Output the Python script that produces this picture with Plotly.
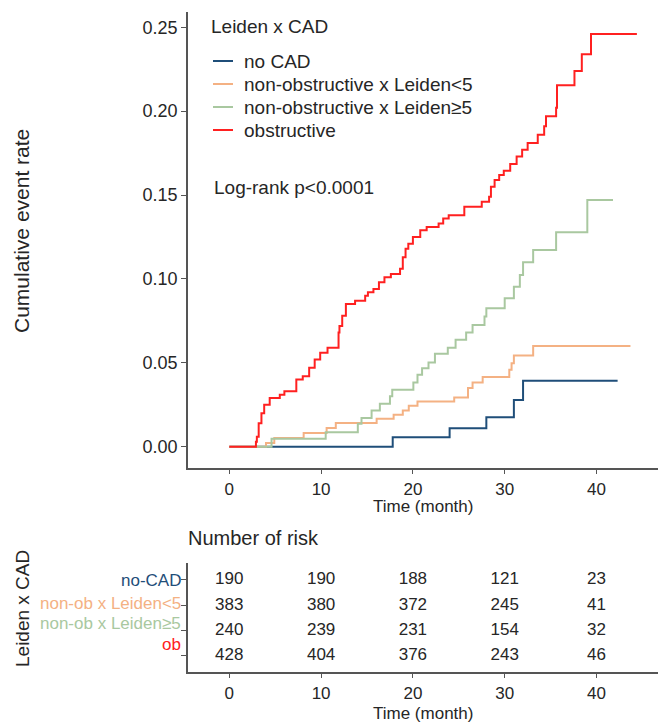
import plotly.graph_objects as go

# ---------------- data ----------------
group_names = ["no CAD", "non-obstructive x Leiden<5", "non-obstructive x Leiden\u22655", "obstructive"]
group_colors = ["#1F4E79", "#F4B183", "#A9C8A0", "#FF2020"]

t_nocad = [0, 17.8, 24.0, 28.0, 31.0, 32.0, 42.3]
v_nocad = [0, 0.0056, 0.0110, 0.0175, 0.0278, 0.0393, 0.0393]

t_lt5 = [0, 4.0, 4.9, 8.1, 10.6, 11.6, 16.05, 17.9, 18.9, 19.55, 20.5, 24.5, 26.0, 26.5, 27.6, 30.5, 30.75, 31.0, 33.1, 43.7]
v_lt5 = [0, 0.0022, 0.0052, 0.0081, 0.0111, 0.0141, 0.0167, 0.0190, 0.0216, 0.0244, 0.0270, 0.0294, 0.0350, 0.0383, 0.0415, 0.0458, 0.0498, 0.0544, 0.0601, 0.0601]

t_ge5 = [0, 4.6, 10.5, 14.0, 14.4, 15.5, 16.4, 17.5, 17.75, 20.05, 20.5, 21.0, 21.7, 22.4, 23.8, 24.65, 25.8, 26.5, 27.8, 28.0, 30.0, 31.0, 31.65, 32.0, 33.1, 35.6, 39.0, 41.8]
v_ge5 = [0, 0.0048, 0.0086, 0.0137, 0.0171, 0.0216, 0.0256, 0.0300, 0.0339, 0.0383, 0.0429, 0.0468, 0.0502, 0.0554, 0.0590, 0.0637, 0.0680, 0.0726, 0.0776, 0.0825, 0.0885, 0.0954, 0.1024, 0.1100, 0.1173, 0.1278, 0.1470, 0.1470]

t_obs = [0, 2.9, 3.0, 3.2, 3.5, 3.8, 4.4, 5.5, 6.0, 7.3, 8.0, 8.7, 9.3, 9.9, 10.7, 11.9, 12.0, 12.3, 12.7, 13.7,
         14.8, 15.1, 15.7, 16.3, 16.9, 17.6, 18.6, 18.9, 19.2, 19.5, 20.0, 20.8, 21.5, 22.8, 23.3, 23.9, 25.6, 27.5, 28.3, 28.5,
         28.9, 29.4, 29.9, 30.6, 31.3, 31.9, 32.5, 33.6, 34.3, 34.5, 35.6, 35.7, 37.6, 38.4, 39.4, 44.4]
v_obs = [0, 0.003, 0.006, 0.014, 0.020, 0.025, 0.029, 0.031, 0.033, 0.040, 0.042, 0.047, 0.052, 0.056, 0.059, 0.068, 0.072, 0.078, 0.085, 0.087,
         0.090, 0.092, 0.094, 0.098, 0.101, 0.103, 0.106, 0.113, 0.118, 0.121, 0.125, 0.129, 0.131, 0.133, 0.136, 0.138, 0.143, 0.146, 0.149, 0.155,
         0.159, 0.162, 0.1645, 0.1685, 0.173, 0.177, 0.181, 0.186, 0.191, 0.197, 0.202, 0.2155, 0.224, 0.234, 0.246, 0.246]

curve_times = [t_nocad, t_lt5, t_ge5, t_obs]
curve_values = [v_nocad, v_lt5, v_ge5, v_obs]

x_ticks = [0, 10, 20, 30, 40]
y_ticks = [0.00, 0.05, 0.10, 0.15, 0.20, 0.25]

risk_times = [0, 10, 20, 30, 40]
risk_labels = ["no-CAD", "non-ob x Leiden<5", "non-ob x Leiden\u22655", "ob"]
risk_rows = [4, 3, 2, 1]
risk_nocad = [190, 190, 188, 121, 23]
risk_lt5 = [383, 380, 372, 245, 41]
risk_ge5 = [240, 239, 231, 154, 32]
risk_obs = [428, 404, 376, 243, 46]
risk_counts = [risk_nocad, risk_lt5, risk_ge5, risk_obs]

# ---------------- figure ----------------
W, H = 658, 723
FONT = "Liberation Sans, Arial, sans-serif"
TXT = "#262626"
AX = "#555555"

def px_x(p):
    return p / W

def px_y(p):
    return (H - p) / H

fig = go.Figure()

for name, color, tt, vv in zip(group_names, group_colors, curve_times, curve_values):
    assert len(tt) == len(vv)
    fig.add_trace(go.Scatter(x=tt, y=vv, mode="lines", line=dict(color=color, width=2, shape="hv"),
                             name=name, showlegend=False, xaxis="x", yaxis="y"))

for row, counts in zip(risk_rows, risk_counts):
    fig.add_trace(go.Scatter(x=risk_times, y=[row] * len(risk_times), mode="text",
                             text=[str(c) for c in counts], textposition="middle center",
                             textfont=dict(family=FONT, size=17, color=TXT),
                             showlegend=False, xaxis="x2", yaxis="y2", hoverinfo="skip"))

x_dom = [px_x(188), 1.0]
axis_common = dict(showline=True, linecolor=AX, linewidth=1.5, ticks="outside", ticklen=5,
                   tickcolor=AX, tickwidth=1.2, showgrid=False, zeroline=False)

fig.update_layout(
    width=W, height=H, margin=dict(l=0, r=0, t=0, b=0),
    paper_bgcolor="white", plot_bgcolor="white",
    font=dict(family=FONT, color=TXT),
    xaxis=dict(domain=x_dom, range=[-4.5, 46.7], tickvals=x_ticks, anchor="y",
               tickfont=dict(size=17, color=TXT), **axis_common),
    yaxis=dict(domain=[px_y(467.5), px_y(11.7)], range=[-0.0124, 0.2593], tickvals=y_ticks,
               tickformat=".2f", anchor="x", tickfont=dict(size=18, color=TXT), **axis_common),
    xaxis2=dict(domain=x_dom, range=[-4.5, 46.7], tickvals=x_ticks, anchor="y2",
                tickfont=dict(size=17, color=TXT), **axis_common),
    yaxis2=dict(domain=[px_y(671.7), px_y(563)], range=[0.38, 4.67], tickvals=risk_rows,
                ticktext=["", "", "", ""], anchor="x2", **axis_common),
)

ann = []
# axis titles
ann.append(dict(text="Cumulative event rate", x=px_x(22), y=px_y(231), xref="paper", yref="paper",
                textangle=-90, showarrow=False, font=dict(size=21, color=TXT), xanchor="center", yanchor="middle"))
ann.append(dict(text="Time (month)", x=px_x(423), y=px_y(507), xref="paper", yref="paper",
                showarrow=False, font=dict(size=17, color=TXT), xanchor="center", yanchor="middle"))
ann.append(dict(text="Time (month)", x=px_x(423), y=px_y(713), xref="paper", yref="paper",
                showarrow=False, font=dict(size=17, color=TXT), xanchor="center", yanchor="middle"))
ann.append(dict(text="Leiden x CAD", x=px_x(22), y=px_y(609), xref="paper", yref="paper",
                textangle=-90, showarrow=False, font=dict(size=19, color=TXT), xanchor="center", yanchor="middle"))
ann.append(dict(text="Number of risk", x=px_x(186), y=px_y(538), xref="paper", yref="paper",
                showarrow=False, font=dict(size=20, color=TXT), xanchor="left", yanchor="middle"))
# legend
ann.append(dict(text="Leiden x CAD", x=px_x(209), y=px_y(27), xref="paper", yref="paper",
                showarrow=False, font=dict(size=19, color=TXT), xanchor="left", yanchor="middle"))
legend_rows_px = [61, 84, 107, 130]
shapes = []
for name, color, yp in zip(group_names, group_colors, legend_rows_px):
    ann.append(dict(text=name, x=px_x(242), y=px_y(yp), xref="paper", yref="paper",
                    showarrow=False, font=dict(size=19, color=TXT), xanchor="left", yanchor="middle"))
    shapes.append(dict(type="line", xref="paper", yref="paper", x0=px_x(213), x1=px_x(233),
                       y0=px_y(yp), y1=px_y(yp), line=dict(color=color, width=2)))
ann.append(dict(text="Log-rank p<0.0001", x=px_x(212), y=px_y(188), xref="paper", yref="paper",
                showarrow=False, font=dict(size=19, color=TXT), xanchor="left", yanchor="middle"))
# risk table row labels (small vertical offsets as in the reference)
label_yshift = [-1, 2, 7, 11]
for lab, color, row, sh in zip(risk_labels, group_colors, risk_rows, label_yshift):
    ann.append(dict(text=lab, x=px_x(183), y=row, xref="paper", yref="y2", yshift=sh,
                    showarrow=False, font=dict(size=17, color=color), xanchor="right", yanchor="middle"))

fig.update_layout(annotations=ann, shapes=shapes)
fig.write_html("out.html", config={"displayModeBar": False},
               post_script="document.body.style.margin='0px';document.body.style.overflow='hidden';")
